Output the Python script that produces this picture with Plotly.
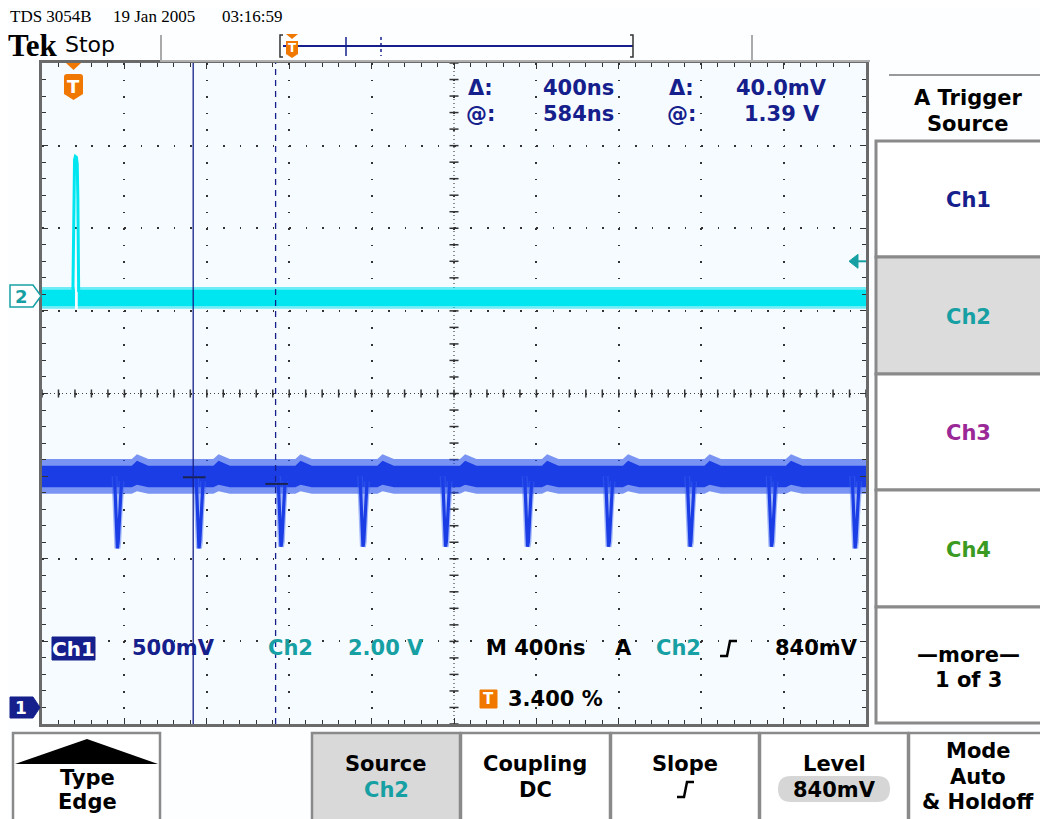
import plotly.graph_objects as go

# ---------------- data ----------------
x_range_ns = [-150, 3850]          # 400 ns/div, trigger at 3.4 % of record
ch1_range_v = [-0.103, 3.897]      # 500 mV/div
ch2_range_v = [-10.36, 5.64]       # 2.00 V/div

ch1_dip_times_ns = [216, 612, 1010, 1408, 1809, 2207, 2600, 2996, 3391, 3797]
ch1_dip_min_v = [0.96, 0.96, 0.97, 0.97, 0.97, 0.97, 0.97, 0.97, 0.97, 0.96]
ch1_core_v = [1.33, 1.46]
ch1_fuzz_v = [1.29, 1.50]
ch1_bump_v = 0.03

ch2_core_v = [-0.24, 0.15]
ch2_fuzz_v = [-0.31, 0.22]
ch2_gap_ns = [10, 24]
ch2_spike_t_ns = [0, 5, 8, 12, 17, 21, 24, 28]
ch2_spike_v = [0.1, 2.5, 3.3, 3.38, 3.36, 3.2, 2.4, 0.1]

cursor_t_ns = [584, 984]
cursor_v = [1.39, 1.35]
trigger_level_v = 0.84

SANS = "DejaVu Sans"
SERIF = "Liberation Serif"
NAVY = "#15208c"
TEAL = "#17a0a4"
CYAN = "#00e6f0"
BLUE = "#1a3de6"
ORANGE = "#f07800"

# ---------------- helpers (reference pixel -> paper) ----------------
OFF = 8                      # page body margin
L, R, T, B = 42, 866, 63, 724
W, H = R - L, B - T
FIG_W, FIG_H = 1048, 819


def X(px):
    return (px - L) / W


def Y(py):
    return (B - py) / H


def pth(cmds, close=True):
    out = []
    for c, pts in cmds:
        if c == "Q":
            for i in range(0, len(pts), 2):
                (ax, ay), (bx, by) = pts[i], pts[i + 1]
                out.append(f"Q{X(ax):.5f},{Y(ay):.5f} {X(bx):.5f},{Y(by):.5f}")
        else:
            for (px, py) in pts:
                out.append(f"{c}{X(px):.5f},{Y(py):.5f}")
    return " ".join(out) + (" Z" if close else "")


shapes = []
annotations = []


def txt(s, x, y, size=21, color="black", family=SANS, xanchor="center", weight="bold"):
    annotations.append(dict(text=s, x=X(x), y=Y(y), xref="paper", yref="paper",
                            showarrow=False, xanchor=xanchor, yanchor="middle",
                            font=dict(family=family, size=size, color=color, weight=weight)))


def rect(x0, y0, x1, y1, fill="rgba(0,0,0,0)", line="#888", lw=2):
    shapes.append(dict(type="rect", xref="paper", yref="paper",
                       x0=X(x0), x1=X(x1), y0=Y(y1), y1=Y(y0),
                       fillcolor=fill, line=dict(color=line, width=lw), layer="above"))


def line(x0, y0, x1, y1, color="#888", lw=2, dash="solid"):
    shapes.append(dict(type="line", xref="paper", yref="paper",
                       x0=X(x0), x1=X(x1), y0=Y(y0), y1=Y(y1),
                       line=dict(color=color, width=lw, dash=dash), layer="above"))


def poly(cmds, fill, lcolor=None, lw=0, close=True):
    shapes.append(dict(type="path", xref="paper", yref="paper", path=pth(cmds, close),
                       fillcolor=fill, line=dict(color=lcolor or fill, width=lw), layer="above"))


# ---------------- traces ----------------
fig = go.Figure()


def band(lo, hi, t0, t1, bumps=None, bump_hi=0.0, bump_lo=0.0):
    up_t, up_v, lo_t, lo_v = [t0], [hi], [t0], [lo]
    for tb in (bumps or []):
        for dt, bh, bl in [(70, 0, 0), (95, bump_hi, bump_lo), (150, 0, 0)]:
            if t0 < tb + dt < t1:
                up_t.append(tb + dt); up_v.append(hi + bh)
                lo_t.append(tb + dt); lo_v.append(lo + bl)
    up_t.append(t1); up_v.append(hi); lo_t.append(t1); lo_v.append(lo)
    return up_t + lo_t[::-1], up_v + lo_v[::-1]


# channel 2 (cyan) band split by the spike
for (a, b) in [(x_range_ns[0], ch2_gap_ns[0]), (ch2_gap_ns[1], x_range_ns[1])]:
    bx, by = band(ch2_fuzz_v[0], ch2_fuzz_v[1], a, b)
    fig.add_trace(go.Scatter(x=bx, y=by, yaxis="y2", fill="toself", mode="none",
                             fillcolor="rgba(0,225,240,0.55)", hoverinfo="skip", showlegend=False))
    bx, by = band(ch2_core_v[0], ch2_core_v[1], a, b)
    fig.add_trace(go.Scatter(x=bx, y=by, yaxis="y2", fill="toself", mode="none",
                             fillcolor=CYAN, hoverinfo="skip", showlegend=False))
fig.add_trace(go.Scatter(x=ch2_spike_t_ns, y=ch2_spike_v, yaxis="y2", mode="lines",
                         line=dict(color=CYAN, width=3), hoverinfo="skip", showlegend=False))

# channel 1 (blue)
bx, by = band(ch1_fuzz_v[0], ch1_fuzz_v[1], x_range_ns[0], x_range_ns[1],
              ch1_dip_times_ns, ch1_bump_v, 0.015)
fig.add_trace(go.Scatter(x=bx, y=by, fill="toself", mode="none",
                         fillcolor="rgba(40,80,235,0.6)", hoverinfo="skip", showlegend=False))
bx, by = band(ch1_core_v[0], ch1_core_v[1], x_range_ns[0], x_range_ns[1],
              ch1_dip_times_ns, ch1_bump_v, 0.015)
fig.add_trace(go.Scatter(x=bx, y=by, fill="toself", mode="none",
                         fillcolor=BLUE, hoverinfo="skip", showlegend=False))
dx, dy = [], []
for t, vmin in zip(ch1_dip_times_ns, ch1_dip_min_v):
    base = (ch1_core_v[0] + ch1_core_v[1]) / 2
    dx += [t - 14, t - 4, t, t + 4, t + 10, t + 20, None]
    dy += [base, 1.05, vmin, 1.0, 1.17, base - 0.03, None]
fig.add_trace(go.Scatter(x=dx, y=dy, mode="lines", line=dict(color="rgba(60,100,240,0.45)", width=6),
                         hoverinfo="skip", showlegend=False, connectgaps=False))
fig.add_trace(go.Scatter(x=dx, y=dy, mode="lines", line=dict(color=BLUE, width=3.2),
                         hoverinfo="skip", showlegend=False, connectgaps=False))

# cursor level markers
for t, v in zip(cursor_t_ns, cursor_v):
    fig.add_trace(go.Scatter(x=[t - 50, t + 60], y=[v, v], mode="lines",
                             line=dict(color="#1a2450", width=2), hoverinfo="skip", showlegend=False))

# ---------------- graticule decorations ----------------
xc = (x_range_ns[0] + x_range_ns[1]) / 2
yc = (ch1_range_v[0] + ch1_range_v[1]) / 2
shapes.append(dict(type="line", xref="x", yref="paper", x0=xc, x1=xc, y0=0, y1=1,
                   line=dict(color="#444", width=1.2, dash="1px,3px"), layer="below"))
shapes.append(dict(type="line", xref="paper", yref="y", x0=0, x1=1, y0=yc, y1=yc,
                   line=dict(color="#444", width=1.2, dash="1px,3px"), layer="below"))
ns_per_px = (x_range_ns[1] - x_range_ns[0]) / W
v_per_px = (ch1_range_v[1] - ch1_range_v[0]) / H
for k in range(41):
    v = ch1_range_v[0] + 0.1 * k
    shapes.append(dict(type="line", xref="x", yref="y", x0=xc - 4.5 * ns_per_px, x1=xc + 4.5 * ns_per_px,
                       y0=v, y1=v, line=dict(color="#333", width=1.5), layer="below"))
for k in range(51):
    t = x_range_ns[0] + 80 * k
    shapes.append(dict(type="line", xref="x", yref="y", x0=t, x1=t,
                       y0=yc - 4 * v_per_px, y1=yc + 4 * v_per_px,
                       line=dict(color="#333", width=1.5), layer="below"))

# cursors
shapes.append(dict(type="line", xref="x", yref="paper", x0=cursor_t_ns[0], x1=cursor_t_ns[0], y0=0, y1=1,
                   line=dict(color=NAVY, width=1.3), layer="above"))
shapes.append(dict(type="line", xref="x", yref="paper", x0=cursor_t_ns[1], x1=cursor_t_ns[1], y0=0, y1=1,
                   line=dict(color=NAVY, width=1.3, dash="6px,5px"), layer="above"))

# trigger level arrow on right edge (ch2)
dv2 = (ch2_range_v[1] - ch2_range_v[0]) / H
shapes.append(dict(type="path", xref="paper", yref="y2",
                   path=f"M{X(849):.5f},{trigger_level_v} L{X(858):.5f},{trigger_level_v + 7 * dv2:.4f} "
                        f"L{X(858):.5f},{trigger_level_v - 7 * dv2:.4f} Z",
                   fillcolor=TEAL, line=dict(color=TEAL, width=1), layer="above"))
shapes.append(dict(type="line", xref="paper", yref="y2", x0=X(856), x1=X(866),
                   y0=trigger_level_v, y1=trigger_level_v, line=dict(color=TEAL, width=2), layer="above"))

# trigger position marker (top of graticule)
poly([("M", [(66, 63)]), ("L", [(81, 63), (73.5, 70)])], ORANGE)
poly([("M", [(64, 77)]), ("Q", [(64, 74), (67, 74)]), ("L", [(80, 74)]), ("Q", [(83, 74), (83, 77)]),
      ("L", [(83, 94), (73.5, 100), (64, 94)])], ORANGE)
txt("T", 73.5, 86, size=18, color="white")

# channel ground markers
poly([("M", [(10, 285)]), ("L", [(33, 285), (41, 296), (33, 307), (10, 307)])], "white", TEAL, 1.5)
txt("2", 21, 296, size=18, color=TEAL)
poly([("M", [(10, 697)]), ("L", [(33, 697), (40, 707.5), (33, 718), (10, 718)])], NAVY, NAVY, 1)
txt("1", 21, 707.5, size=17, color="white")

# readouts inside graticule
for s, x, y in [("Δ:", 480, 88), ("@:", 480, 114), ("Δ:", 681, 88), ("@:", 681, 114),
                ("400ns", 578, 88), ("584ns", 578, 114), ("40.0mV", 781, 88), ("1.39 V", 782, 114)]:
    txt(s, x, y, color=NAVY)
rect(52, 637, 95, 660, fill=NAVY, line=NAVY, lw=1)
txt("Ch1", 73.5, 648.5, size=20, color="white")
txt("500mV", 173, 648, color=NAVY)
txt("Ch2", 290, 648, color=TEAL)
txt("2.00 V", 386, 648, color=TEAL)
txt("M 400ns", 536, 648)
txt("A", 623, 648)
txt("Ch2", 678, 648, color=TEAL)
poly([("M", [(720, 656)]), ("L", [(727, 656), (730, 641), (737, 641)])], "rgba(0,0,0,0)", "black", 2.5, close=False)
txt("840mV", 816, 648)
rect(480, 690, 497, 708, fill=ORANGE, line=ORANGE, lw=1)
txt("T", 488.5, 699, size=15, color="white")
txt("3.400 %", 555, 699)

# ---------------- header ----------------
txt("TDS 3054B", 8, 17, size=17, family=SERIF, xanchor="left", weight="normal")
txt("19 Jan 2005", 111, 17, size=17, family=SERIF, xanchor="left", weight="normal")
txt("03:16:59", 220, 17, size=17, family=SERIF, xanchor="left", weight="normal")
txt("Tek", 6, 46, size=31, family=SERIF, xanchor="left")
txt("Stop", 63, 45, size=22, xanchor="left", weight="normal")
line(161, 35, 161, 62, color="#aaa", lw=2)
line(752, 35, 752, 62, color="#aaa", lw=2)
line(161, 61, 870, 61, color="#b0b0b0", lw=2)
# record view
line(283, 46, 633, 46, color=NAVY, lw=2)
poly([("M", [(283, 35)]), ("L", [(280, 35), (280, 57), (283, 57)])], "rgba(0,0,0,0)", "#333", 1.5, close=False)
poly([("M", [(630, 35)]), ("L", [(633, 35), (633, 57), (630, 57)])], "rgba(0,0,0,0)", "#333", 1.5, close=False)
line(346, 37, 346, 56, color=NAVY, lw=1.5)
line(381, 37, 381, 56, color=NAVY, lw=1.5, dash="3px,3px")
poly([("M", [(286, 34)]), ("L", [(298, 34), (292, 39)])], ORANGE)
poly([("M", [(286, 41)]), ("L", [(298, 41), (298, 54), (292, 58), (286, 54)])], ORANGE)
txt("T", 292, 48, size=12, color="white")

# ---------------- side menu ----------------
line(889, 75, 1043, 75, color="#999", lw=2)
txt("A Trigger", 968, 98)
txt("Source", 968, 124)
side = [("Ch1", NAVY, 141, 257, "white"), ("Ch2", TEAL, 257, 374, "#dcdcdc"),
        ("Ch3", "#9a2896", 374, 490, "white"), ("Ch4", "#3a9a22", 490, 607, "white"),
        ("", "black", 607, 723, "white")]
for lab, col, y0, y1, fill in side:
    rect(876, y0, 1054, y1, fill=fill, line="#8a8a8a", lw=3)
    if lab:
        txt(lab, 968, (y0 + y1) / 2 + 1, color=col)
txt("—more—", 968, 655)
txt("1 of 3", 968, 680)

# ---------------- bottom menu ----------------
rect(13, 733, 160, 825, fill="white", line="#8a8a8a", lw=2.5)
poly([("M", [(15, 764)]), ("L", [(87, 739), (158, 764)])], "black")
txt("Type", 87, 778)
txt("Edge", 87, 802)
rect(312, 733, 460, 825, fill="#d9d9d9", line="#8a8a8a", lw=2.5)
txt("Source", 386, 764)
txt("Ch2", 386, 790, color=TEAL)
rect(461, 733, 610, 825, fill="white", line="#8a8a8a", lw=2.5)
txt("Coupling", 535, 764)
txt("DC", 535, 790)
rect(611, 733, 759, 825, fill="white", line="#8a8a8a", lw=2.5)
txt("Slope", 685, 764)
poly([("M", [(677, 797)]), ("L", [(684, 797), (687, 782), (694, 782)])], "rgba(0,0,0,0)", "black", 2.5, close=False)
rect(760, 733, 908, 825, fill="white", line="#8a8a8a", lw=2.5)
txt("Level", 834, 764)
poly([("M", [(791, 776)]), ("L", [(877, 776)]), ("Q", [(890, 776), (890, 789), (890, 802), (877, 802)]),
      ("L", [(791, 802)]), ("Q", [(778, 802), (778, 789), (778, 776), (791, 776)])], "#d6d6d6")
txt("840mV", 834, 790)
rect(909, 733, 1054, 825, fill="white", line="#8a8a8a", lw=2.5)
txt("Mode", 978, 751)
txt("Auto", 978, 777)
txt("& Holdoff", 978, 802)

# ---------------- layout ----------------
fig.update_layout(
    width=FIG_W, height=FIG_H,
    margin=dict(l=L - OFF, r=FIG_W - (R - OFF), t=T - OFF, b=FIG_H - (B - OFF), pad=0),
    paper_bgcolor="#fcfeff", plot_bgcolor="#f6fbff",
    showlegend=False, shapes=shapes, annotations=annotations,
    xaxis=dict(range=x_range_ns, showgrid=True, gridcolor="#333", gridwidth=1.6,
               griddash="1.6px,14.925px", tick0=x_range_ns[0], dtick=400, showticklabels=False,
               ticks="inside", ticklen=6, tickwidth=1.4, tickcolor="#333",
               minor=dict(ticks="inside", ticklen=4, dtick=80, tick0=x_range_ns[0], tickcolor="#333", tickwidth=1.4),
               showline=True, linecolor="#6a6a6a", linewidth=3, mirror="ticks", zeroline=False, fixedrange=True),
    yaxis=dict(range=ch1_range_v, showgrid=True, gridcolor="#333", gridwidth=1.6,
               griddash="1.6px,14.88px", tick0=ch1_range_v[0], dtick=0.5, showticklabels=False,
               ticks="inside", ticklen=6, tickwidth=1.4, tickcolor="#333",
               minor=dict(ticks="inside", ticklen=4, dtick=0.1, tick0=ch1_range_v[0], tickcolor="#333", tickwidth=1.4),
               showline=True, linecolor="#6a6a6a", linewidth=3, mirror="ticks", zeroline=False, fixedrange=True),
    yaxis2=dict(range=ch2_range_v, overlaying="y", visible=False, fixedrange=True),
)

fig.write_html("out.html")
